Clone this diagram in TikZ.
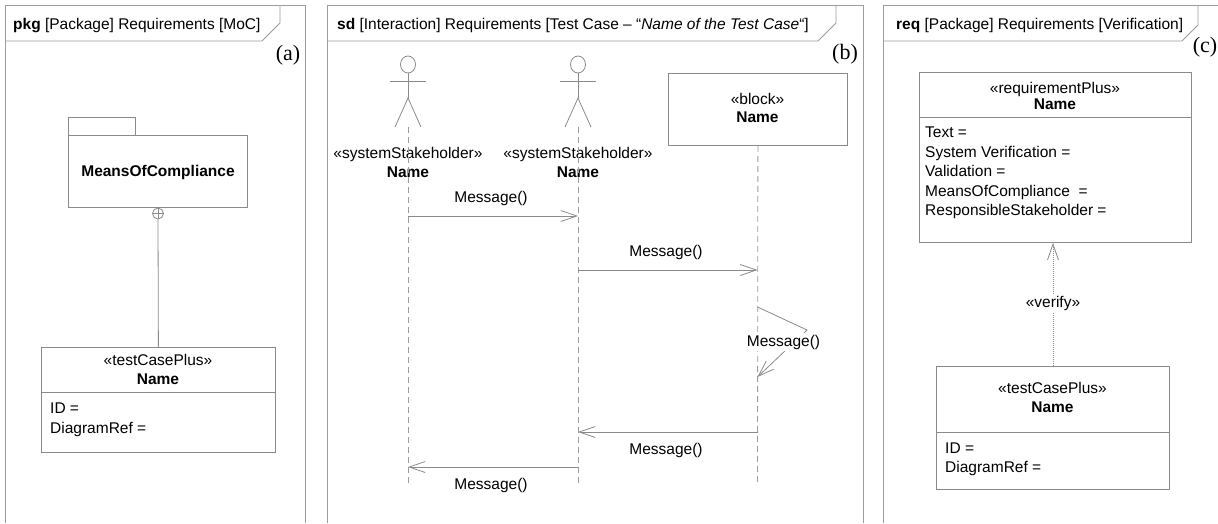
\documentclass[tikz,border=0pt]{standalone}
\usepackage{fontspec}
\setmainfont{Liberation Sans}
\newfontfamily\tnr{Liberation Serif}
\usetikzlibrary{arrows.meta}
\definecolor{lg}{HTML}{9C9C9C}
\definecolor{bc}{HTML}{8A8A8A}
\begin{document}
\begin{tikzpicture}[x=1pt,y=-1pt,
  txt/.style={inner sep=0pt, font=\fontsize{15.5}{19.5}\selectfont, text=black},
  frm/.style={draw=lg, line width=0.9pt},
  box/.style={draw=bc, line width=0.8pt, inner sep=0pt, anchor=north west},
  life/.style={draw=lg, line width=0.8pt, dash pattern=on 6pt off 4pt},
  msg/.style={draw=bc, line width=0.8pt, -{Straight Barb[length=16pt,width=11pt,line width=0.8pt]}},
  vfy/.style={draw=bc, line width=0.8pt, dash pattern=on 1pt off 1pt, -{Straight Barb[length=16pt,width=11pt,line width=0.8pt]}},
  fig/.style={draw=bc, line width=0.8pt},
  lbl/.style={font=\tnr\fontsize{22}{26}\selectfont, inner sep=0pt},
]
\useasboundingbox (0,0) rectangle (1218,523);

% ---------------- panel (a)
\draw[frm] (5,523) -- (5,5) -- (305,5) -- (305,523);
\draw[frm] (5,41) -- (262,41) -- (280,23) -- (280,5);
\node[txt, anchor=base west] (ha) at (13,29) {\textbf{pkg} [Package] Requirements [MoC]};
\node[lbl] (la) at (288,55) {(a)};

\node[box, minimum width=67pt, minimum height=18pt] (tab) at (68,117) {};
\node[box, minimum width=179pt, minimum height=72pt] (pkgA) at (68,135) {};
\node[txt, font=\fontsize{15.5}{19.5}\selectfont\bfseries, anchor=base] (pkgAt) at (158,176) {MeansOfCompliance};

\node[circle, draw=bc, line width=0.8pt, minimum size=11pt, inner sep=0pt] (cp) at (158,213.5) {};
\draw[fig] (cp.north) -- (cp.south) (cp.west) -- (cp.east);

\node[box, minimum width=234pt, minimum height=105pt] (tcA) at (41,347) {};
\draw[box] (41,392) -- (275,392);
\node[txt, anchor=base] (tcAs) at (158,365) {«testCasePlus»};
\node[txt, anchor=base, font=\fontsize{15.5}{19.5}\selectfont\bfseries] (tcAn) at (158,384) {Name};
\node[txt, anchor=base west] (tcA1) at (50,413.5) {ID =};
\node[txt, anchor=base west] (tcA2) at (50,433) {DiagramRef =};
\draw[fig] (cp.south) -- (tcA.north);

% ---------------- panel (b)
\draw[frm] (327,523) -- (327,5) -- (863,5) -- (863,523);
\draw[frm] (327,41) -- (818,41) -- (836,23) -- (836,5);
\node[txt, anchor=base west] (hb) at (337,29) {\textbf{sd} [Interaction] Requirements [Test Case – “\textit{Name of the Test Case}“]};
\node[lbl] (lb) at (845,54) {(b)};

% actors
\foreach \ax/\nm in {408/one, 578/two}{
  \draw[fig] (\ax,64.5) ellipse [x radius=7.5pt, y radius=8.5pt];
  \draw[fig] (\ax-18,81) -- (\ax+18,81);
  \draw[fig] (\ax,73) -- (\ax,98);
  \draw[fig] (\ax-13,127) -- (\ax,98) -- (\ax+13,127);
  \node[txt, anchor=base] (st\nm) at (\ax,158) {«systemStakeholder»};
  \node[txt, anchor=base, font=\fontsize{15.5}{19.5}\selectfont\bfseries] (nm\nm) at (\ax,177) {Name};
}
\coordinate (a1top) at (408,127);
\coordinate (a1bot) at (408,485);
\coordinate (a2top) at (578,127);
\coordinate (a2bot) at (578,485);

\node[box, minimum width=179pt, minimum height=72pt] (blk) at (668,73) {};
\node[txt, anchor=base] (blks) at (757.5,104) {«block»};
\node[txt, anchor=base, font=\fontsize{15.5}{19.5}\selectfont\bfseries] (blkn) at (757.5,122.5) {Name};
\coordinate (a3bot) at (757.5,485);

\draw[life] (a1top) -- (a1bot);
\draw[life] (a2top) -- (a2bot);
\draw[life] (blk.south) -- (a3bot);

% messages
\coordinate (m1s) at (408,216);  \coordinate (m1e) at (578,216);
\coordinate (m2s) at (578,270);  \coordinate (m2e) at (757.5,270);
\coordinate (m3s) at (757.5,307);\coordinate (m3k) at (807,330); \coordinate (m3e) at (757.5,377);
\coordinate (m4s) at (757.5,432);\coordinate (m4e) at (578,432);
\coordinate (m5s) at (578,467);  \coordinate (m5e) at (408,467);

\draw[msg] (m1s) -- (m1e);
\node[txt, anchor=base] (t1) at (491,202) {Message()};
\draw[msg] (m2s) -- (m2e);
\node[txt, anchor=base] (t2) at (666,256) {Message()};
\draw[msg] (m3s) -- (m3k) -- (m3e);
\node[txt, fill=white, inner sep=1.5pt] (t3) at (783.5,342) {Message()};
\draw[msg] (m4s) -- (m4e);
\node[txt, anchor=base] (t4) at (666,454) {Message()};
\draw[msg] (m5s) -- (m5e);
\node[txt, anchor=base] (t5) at (491,489) {Message()};

% ---------------- panel (c)
\draw[frm] (883,523) -- (883,5) -- (1218,5);
\draw[frm] (883,41) -- (1182,41) -- (1198,25) -- (1198,5);
\node[txt, anchor=base west] (hc) at (896,29) {\textbf{req} [Package] Requirements [Verification]};
\node[lbl] (lc) at (1205,47) {(c)};

\node[box, minimum width=272pt, minimum height=170pt] (req) at (919,72) {};
\draw[box] (919,117) -- (1191,117);
\node[txt, anchor=base] (reqs) at (1055,93) {«requirementPlus»};
\node[txt, anchor=base, font=\fontsize{15.5}{19.5}\selectfont\bfseries] (reqn) at (1055,109.5) {Name};
\node[txt, anchor=base west] (r1) at (925,137.5) {Text =};
\node[txt, anchor=base west] (r2) at (925,157) {System Verification =};
\node[txt, anchor=base west] (r3) at (925,176.5) {Validation =};
\node[txt, anchor=base west] (r4) at (925,196) {MeansOfCompliance\ \ =};
\node[txt, anchor=base west] (r5) at (925,215.5) {ResponsibleStakeholder =};

\node[box, minimum width=233pt, minimum height=123pt] (tcC) at (936,366) {};
\draw[box] (936,432) -- (1169,432);
\node[txt, anchor=base] (tcCs) at (1052.5,393) {«testCasePlus»};
\node[txt, anchor=base, font=\fontsize{15.5}{19.5}\selectfont\bfseries] (tcCn) at (1052.5,412) {Name};
\node[txt, anchor=base west] (tcC1) at (945,453) {ID =};
\node[txt, anchor=base west] (tcC2) at (945,472) {DiagramRef =};

\draw[vfy] (tcC.north -| 1053,0) -- (req.south -| 1053,0);
\node[txt, fill=white, inner sep=1.5pt] (vl) at (1053,303) {«verify»};
\end{tikzpicture}
\end{document}
